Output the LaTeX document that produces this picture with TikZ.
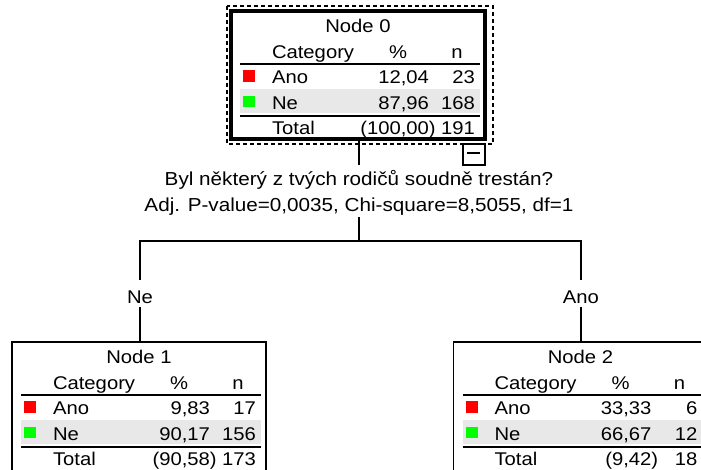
\documentclass[tikz,border=0pt]{standalone}
\usepackage{fontspec}
\setmainfont{Liberation Sans}[FakeStretch=1.10]
\usetikzlibrary{calc}
\definecolor{rowgray}{RGB}{232,232,232}
\definecolor{catred}{RGB}{255,0,0}
\definecolor{catgreen}{RGB}{0,255,0}
\tikzset{
  conn/.style={line width=1.1pt, draw=black},
  rulew/.style={line width=1.5pt, draw=black},
  thickbox/.style={draw=black, line width=2.5pt, rectangle, inner sep=0pt, outer sep=0pt,
    minimum width=190.5pt, minimum height=96pt},
  thinbox/.style={draw=black, line width=1.1pt, rectangle, inner sep=0pt, outer sep=0pt,
    minimum width=190.5pt, minimum height=98.25pt},
  dashbox/.style={draw=black, line width=1.1pt, dash pattern=on 3pt off 2.25pt},
  txt/.style={inner sep=0pt, outer sep=0pt, font=\fontsize{13.8pt}{16pt}\selectfont},
  qtxt/.style={inner sep=0pt, outer sep=0pt, font=\fontsize{14.1pt}{16pt}\selectfont},
}
% #1 name, #2 top-left "x,y", #3 title, #4 ano pct, #5 ano n, #6 ne pct, #7 ne n, #8 total pct, #9 total n
\newcommand\drawcattable[9]{%
  \begin{scope}[shift={(#2)}]
    \fill[rowgray] (9,78) rectangle (249,102);
    \draw[rulew] (9,53) -- (249,53);
    \draw[rulew] (9,105) -- (249,105);
    \fill[catred] (12,59.5) rectangle (24,71);
    \fill[catgreen] (12,85) rectangle (24,96.5);
    \node[txt,anchor=base] (#1-title) at (127,21.5) {#3};
    \node[txt,anchor=base west] (#1-cat) at (41,48) {Category};
    \node[txt,anchor=base] (#1-pct) at (167,48) {\%};
    \node[txt,anchor=base] (#1-n) at (226,48) {n};
    \node[txt,anchor=base west] (#1-ano) at (41,72.5) {Ano};
    \node[txt,anchor=base east] (#1-anop) at (198,72.5) {#4};
    \node[txt,anchor=base east] (#1-anon) at (244,72.5) {#5};
    \node[txt,anchor=base west] (#1-ne) at (41,98.5) {Ne};
    \node[txt,anchor=base east] (#1-nep) at (198,98.5) {#6};
    \node[txt,anchor=base east] (#1-nen) at (244,98.5) {#7};
    \node[txt,anchor=base west] (#1-tot) at (41,123.7) {Total};
    \node[txt,anchor=base east] (#1-totp) at (198,123.7) {(#8\rlap{)}};
    \node[txt,anchor=base east] (#1-totn) at (244,123.7) {#9};
  \end{scope}%
}
\begin{document}
\begin{tikzpicture}[x=0.75pt,y=-0.75pt]
  \useasboundingbox (0,0) rectangle (701,470);
  \fill[white] (0,0) rectangle (701,470);
  \clip (0,0) rectangle (701,470);

  % node 0
  \drawcattable{t0}{231,11}{Node 0}{12,04}{23}{87,96}{168}{100,00}{191}
  \node[thickbox] (n0) at (358,75) {};
  \draw[dashbox] ($(n0.north west)+(-4,-5)$) rectangle ($(n0.south east)+(8,5)$);
  \draw[conn] (463,144) rectangle (485,165);
  \draw[line width=1.5pt] (467,153.5) -- (480,153.5);

  % split question
  \node[qtxt,anchor=base,text height=15.75pt] (q1) at (359,186)
    {Byl některý z tvých rodičů soudně trestán?};
  \node[qtxt,anchor=base,text depth=4pt] (q2) at (359,211.7)
    {Adj. P-value=0,0035, Chi-square=8,5055, df=1};
  \draw[conn] (q1.north |- n0.south) -- (q1.north);
  \coordinate (split) at (359,241);
  \draw[conn] (q2.south) -- (split);

  % branch labels
  \node[txt,anchor=base,text height=17.5pt,text depth=2.55pt] (nelab) at (140,303.3) {Ne};
  \node[txt,anchor=base,text height=17.5pt,text depth=2.55pt] (anolab) at (581,303.3) {Ano};
  \draw[conn] (nelab.north) |- (split) -| (anolab.north);

  % node 1
  \drawcattable{t1}{12,342}{Node 1}{9,83}{17}{90,17}{156}{90,58}{173}
  \node[thinbox] (n1) at (139,407.5) {};
  \draw[conn] (nelab.south) -- (nelab.south |- n1.north);

  % node 2
  \drawcattable{t2}{453.5,342}{Node 2}{33,33}{6}{66,67}{12}{9,42}{18}
  \node[thinbox] (n2) at (580.5,407.5) {};
  \draw[conn] (anolab.south) -- (anolab.south |- n2.north);
\end{tikzpicture}
\end{document}
